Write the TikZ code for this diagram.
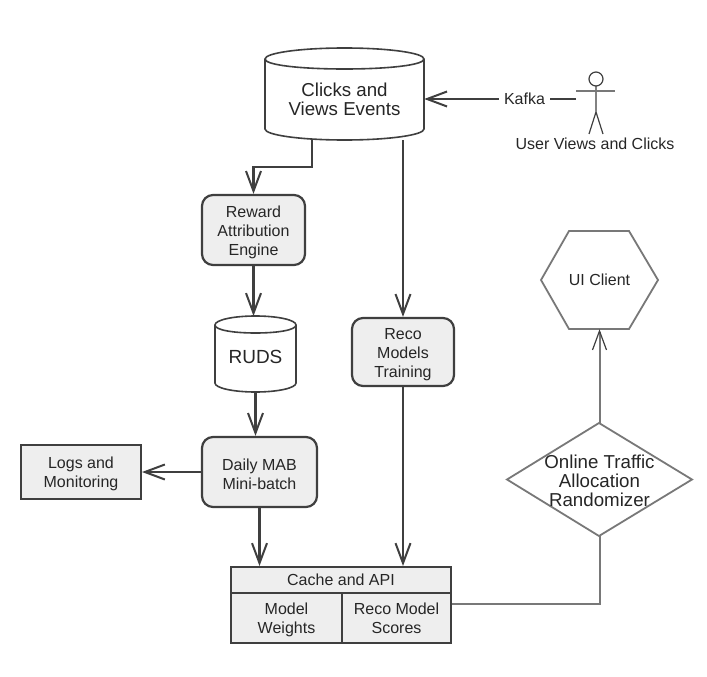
\documentclass[tikz,border=0pt]{standalone}
\usepackage{fontspec}
\setmainfont{Liberation Sans}
\usetikzlibrary{arrows.meta,shapes.geometric}
\definecolor{ink}{HTML}{3F3F3F}
\definecolor{soft}{HTML}{787878}
\definecolor{panel}{HTML}{EEEEEE}
\definecolor{txt}{HTML}{262626}
\newcommand{\lowered}[2][2pt]{\raisebox{-#1}[\height][\depth]{#2}}
\tikzset{
  x=1pt,y=-1pt,
  every node/.style={text=txt,align=center,font=\fontsize{16}{19}\selectfont,inner sep=0pt},
  arr/.style={draw=ink,line width=2.1pt,-{Straight Barb[length=20pt,width=15pt,line width=2pt]}},
  plainline/.style={draw=ink,line width=2pt},
  softarr/.style={draw=soft,line width=2pt,-{Straight Barb[length=19pt,width=14pt,line width=1.2pt,color=ink]}},
  softline/.style={draw=soft,line width=2pt},
  roundbox/.style={draw=ink,fill=panel,line width=2.2pt,rounded corners=11pt},
  flatbox/.style={draw=ink,fill=panel,line width=2pt},
  cylpath/.style={draw=ink,line width=1.6pt,fill=white},
  softshape/.style={draw=soft,line width=1.8pt,fill=white},
  bigtext/.style={font=\fontsize{18.7}{19}\selectfont},
}
\begin{document}
\begin{tikzpicture}
\useasboundingbox (0,0) rectangle (707,677);
% big cylinder
\draw[cylpath] (265,59) -- (265,129) .. controls (265,135) and (300,140) .. (344.5,140) .. controls (389,140) and (424,135) .. (424,129) -- (424,59) .. controls (424,53) and (389,48) .. (344.5,48) .. controls (300,48) and (265,53) .. (265,59) .. controls (265,65) and (300,69) .. (344.5,69) .. controls (389,69) and (424,65) .. (424,59);
\node[bigtext,minimum width=159pt,minimum height=82pt] (events) at (344.5,99) {Clicks and\\Views Events};
% RUDS cylinder
\draw[cylpath] (215,325) -- (215,383) .. controls (215,388) and (233,392) .. (255.5,392) .. controls (278,392) and (296,388) .. (296,383) -- (296,325) .. controls (296,320) and (278,316) .. (255.5,316) .. controls (233,316) and (215,320) .. (215,325) .. controls (215,330) and (233,333) .. (255.5,333) .. controls (278,333) and (296,330) .. (296,325);
\node[font=\fontsize{19}{19}\selectfont,minimum width=81pt,minimum height=70pt] (ruds) at (255.5,357) {RUDS};
\coordinate (rudstop) at (255.5,316);
% boxes
\node[roundbox,minimum width=103pt,minimum height=70pt] (reward) at (253.5,230) {\lowered{Reward}\\\lowered{Attribution}\\\lowered{Engine}};
\node[roundbox,minimum width=102pt,minimum height=68pt] (reco) at (403,352) {\lowered[3pt]{Reco}\\\lowered[3pt]{Models}\\\lowered[3pt]{Training}};
\node[roundbox,minimum width=115pt,minimum height=70pt] (daily) at (259.5,472) {\lowered{Daily MAB}\\\lowered{Mini-batch}};
\node[flatbox,minimum width=120pt,minimum height=54pt] (logs) at (81,472) {\lowered{Logs and}\\\lowered{Monitoring}};
\node[flatbox,minimum width=220pt,minimum height=26pt] (cache) at (341,580) {Cache and API};
\node[flatbox,minimum width=111pt,minimum height=50pt] (weights) at (286.5,618) {\lowered[1.5pt]{Model}\\\lowered[1.5pt]{Weights}};
\node[flatbox,minimum width=109pt,minimum height=50pt] (scores) at (396.5,618) {Reco Model\\Scores};
% UI client and randomizer
\draw[softshape] (541,280) -- (569,231) -- (629,231) -- (658,280) -- (629,329) -- (569,329) -- cycle;
\node[minimum width=117pt,minimum height=98pt] (ui) at (599.5,280) {UI Client};
\draw[softshape] (507,479.5) -- (599,423) -- (692,479.5) -- (599,536) -- cycle;
\node[font=\fontsize{18.7}{19}\selectfont,minimum width=185pt,minimum height=113pt] (rand) at (599.5,479.5) {\lowered[1pt]{Online Traffic}\\\lowered[1pt]{Allocation}\\\lowered[1pt]{Randomizer}};
% actor
\coordinate (head) at (596,79);
\coordinate (hand) at (576,99);
\draw[ink,line width=1.2pt] (head) circle (7);
\draw[ink,line width=1.2pt] (596,86) -- (596,112) (589,134) -- (596,112) -- (603,134);
\draw[soft,line width=1.6pt] (576,91) -- (615,91);
\node (user) at (595,144) {User Views and Clicks};
\node[minimum width=51pt,minimum height=16pt] (kafka) at (524.5,99) {Kafka};
% connectors
\draw[plainline] (hand) -- (kafka.east);
\draw[arr] (kafka.west) -- (events.east |- kafka.west);
\draw[arr] (312,139) -- (312,167) -- (reward.north |- 0,167) -- (reward.north);
\draw[arr] (reco.north |- events.south) -- (reco.north);
\draw[arr] (reward.south) -- (reward.south |- rudstop);
\draw[arr] (ruds.south) -- (ruds.south |- daily.north);
\draw[arr] (daily.west) -- (logs.east);
\draw[arr] (daily.south) -- (daily.south |- cache.north);
\draw[arr] (reco.south) -- (reco.south |- cache.north);
\draw[softline] (scores.east |- 0,604) -- (rand.south |- 0,604) -- (rand.south);
\draw[softarr] (rand.north) -- (ui.south);
\end{tikzpicture}
\end{document}
